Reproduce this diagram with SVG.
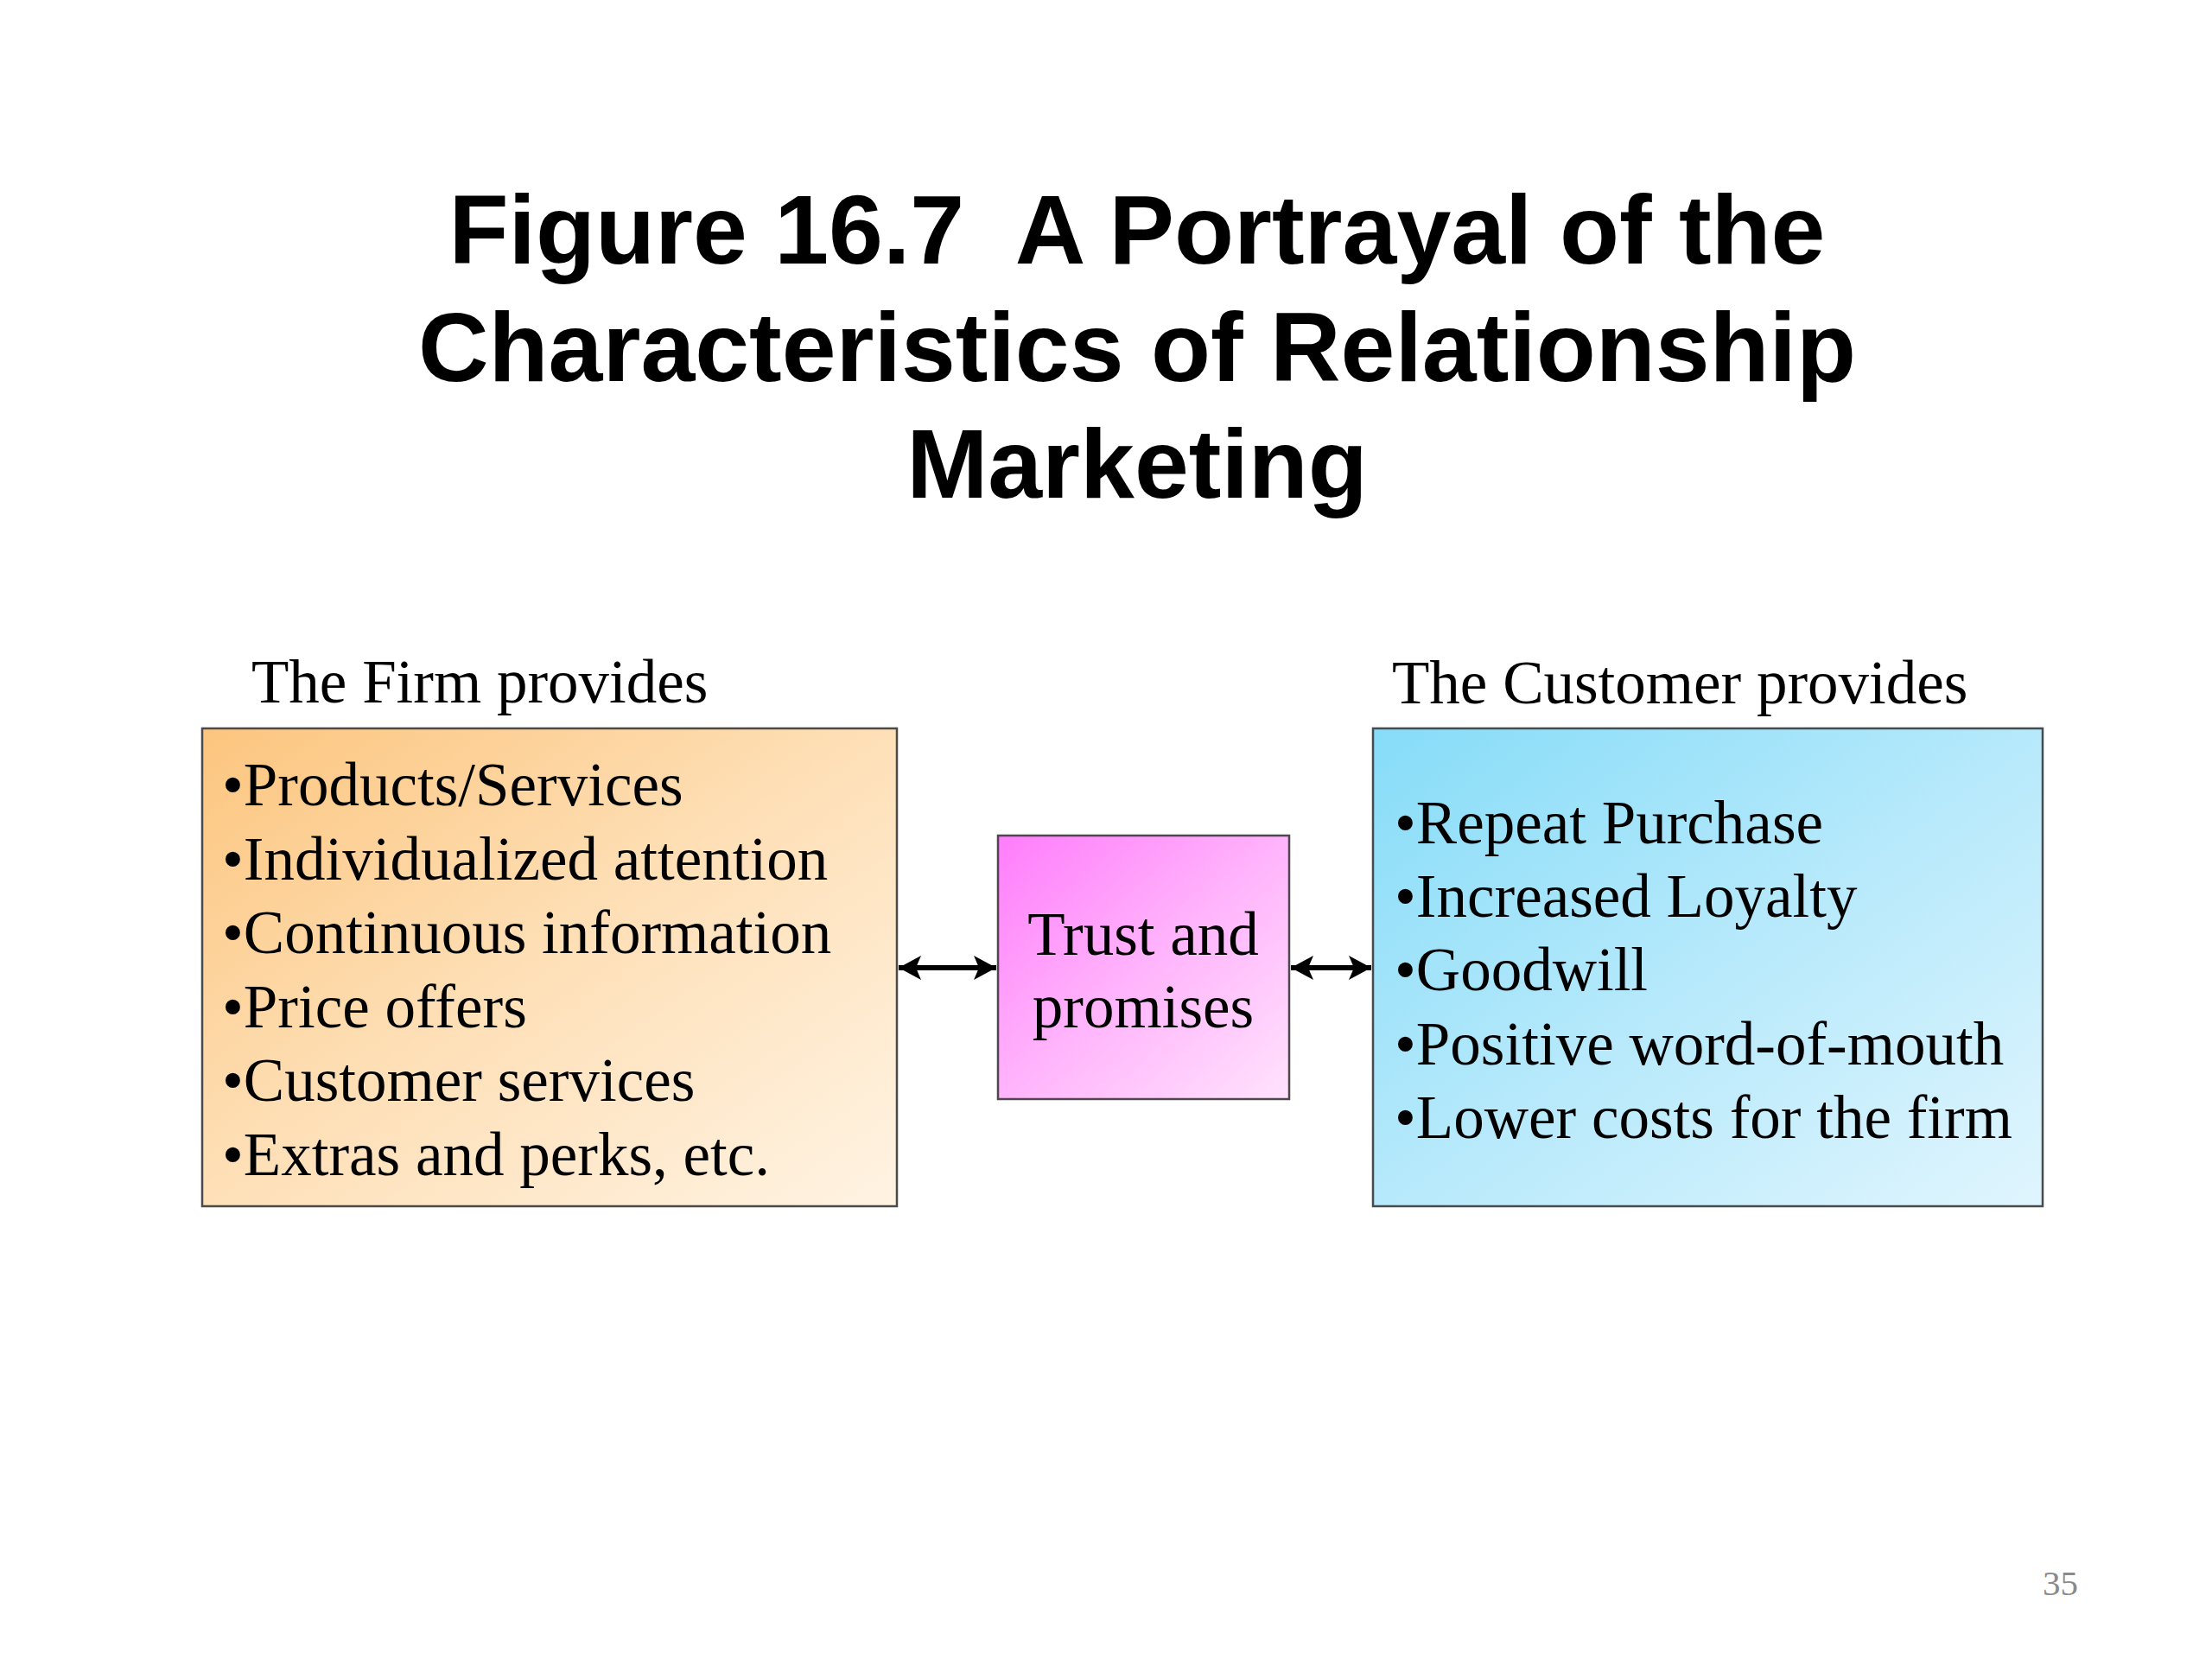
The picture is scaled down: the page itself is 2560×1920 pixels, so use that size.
<svg xmlns="http://www.w3.org/2000/svg" width="2560" height="1920" viewBox="0 0 2560 1920">
<style>
.title{font-family:"Liberation Sans",Arial,sans-serif;font-weight:bold;font-size:113px;fill:#000;text-anchor:middle;white-space:pre}
.t{font-family:"Liberation Serif","Times New Roman",serif;font-size:71px;fill:#000}
.box{stroke:#4a4a4a;stroke-width:2.5}
.conn{stroke:#000;stroke-width:6;fill:none}
</style>
<defs>
<linearGradient id="gL" x1="0" y1="0" x2="1" y2="1">
<stop offset="0" stop-color="#fcc57e"/>
<stop offset="0.5" stop-color="#fee0b8"/>
<stop offset="1" stop-color="#fff3e3"/>
</linearGradient>
<linearGradient id="gM" x1="0" y1="0" x2="1" y2="1">
<stop offset="0" stop-color="#ff7dfc"/>
<stop offset="0.5" stop-color="#ffb4fb"/>
<stop offset="1" stop-color="#ffe2fd"/>
</linearGradient>
<linearGradient id="gR" x1="0" y1="0" x2="1" y2="1">
<stop offset="0" stop-color="#86dcf8"/>
<stop offset="0.5" stop-color="#b6e9fb"/>
<stop offset="1" stop-color="#e0f5fe"/>
</linearGradient>
<marker id="ah" markerUnits="userSpaceOnUse" markerWidth="30" markerHeight="32" refX="26" refY="16" orient="auto-start-reverse">
<path d="M0,2 L26,16 L0,30 L6,16 Z" fill="#000"/>
</marker>
</defs>
<rect width="2560" height="1920" fill="#fff"/>
<g id="title">
<text class="title" x="1316" y="305" xml:space="preserve">Figure 16.7  A Portrayal of the</text>
<text class="title" x="1316" y="441">Characteristics of Relationship</text>
<text class="title" x="1316" y="576">Marketing</text>
</g>
<g id="firm">
<text class="t" x="291" y="813">The Firm provides</text>
<rect class="box" x="234" y="843" width="804" height="553" fill="url(#gL)"/>
<text class="t" x="257" y="932">•Products/Services</text>
<text class="t" x="257" y="1017.5">•Individualized attention</text>
<text class="t" x="257" y="1103">•Continuous information</text>
<text class="t" x="257" y="1188.5">•Price offers</text>
<text class="t" x="257" y="1274">•Customer services</text>
<text class="t" x="257" y="1359.5">•Extras and perks, etc.</text>
</g>
<g id="trust">
<rect class="box" x="1155" y="967" width="337" height="305" fill="url(#gM)"/>
<text class="t" x="1323" y="1105" text-anchor="middle">Trust and</text>
<text class="t" x="1323" y="1189" text-anchor="middle">promises</text>
</g>
<g id="customer">
<text class="t" x="1611" y="814">The Customer provides</text>
<rect class="box" x="1589" y="843" width="775" height="553" fill="url(#gR)"/>
<text class="t" x="1614" y="976">•Repeat Purchase</text>
<text class="t" x="1614" y="1061">•Increased Loyalty</text>
<text class="t" x="1614" y="1146">•Goodwill</text>
<text class="t" x="1614" y="1232">•Positive word-of-mouth</text>
<text class="t" x="1614" y="1317">•Lower costs for the firm</text>
</g>
<g id="connectors">
<line class="conn" x1="1040" y1="1120" x2="1153" y2="1120" marker-start="url(#ah)" marker-end="url(#ah)"/>
<line class="conn" x1="1494" y1="1120" x2="1587" y2="1120" marker-start="url(#ah)" marker-end="url(#ah)"/>
</g>
<text x="2364" y="1846" font-family="'Liberation Serif','Times New Roman',serif" font-size="41" fill="#8a8a8a">35</text>
</svg>
